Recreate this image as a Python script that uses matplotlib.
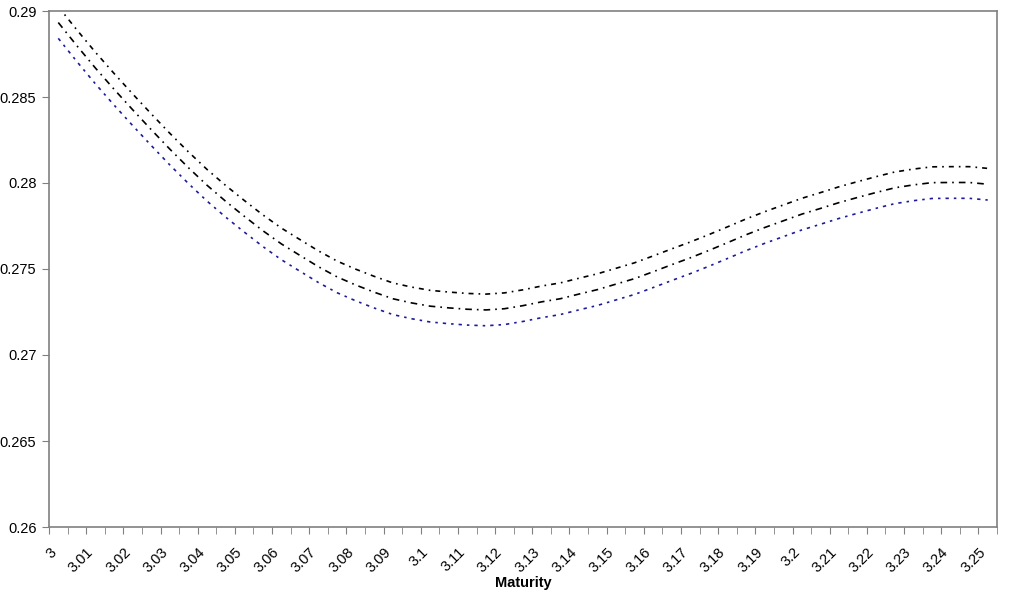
import numpy as np
import matplotlib
matplotlib.use('Agg')
import matplotlib.pyplot as plt

plt.rcParams['font.family'] = ['Liberation Sans', 'DejaVu Sans']

# maturities, one category every 0.005
maturity = [3.000, 3.005, 3.010, 3.015, 3.020, 3.025, 3.030, 3.035, 3.040, 3.045,
            3.050, 3.055, 3.060, 3.065, 3.070, 3.075, 3.080, 3.085, 3.090, 3.095,
            3.100, 3.105, 3.110, 3.115, 3.120, 3.125, 3.130, 3.135, 3.140, 3.145,
            3.150, 3.155, 3.160, 3.165, 3.170, 3.175, 3.180, 3.185, 3.190, 3.195,
            3.200, 3.205, 3.210, 3.215, 3.220, 3.225, 3.230, 3.235, 3.240, 3.245,
            3.250]

low = [0.28841, 0.28706, 0.28576, 0.28453, 0.28334, 0.28218, 0.28105, 0.27997, 0.27895, 0.27802,
       0.27715, 0.27631, 0.27554, 0.27487, 0.27421, 0.27362, 0.27315, 0.27273, 0.27235, 0.27211,
       0.27192, 0.27182, 0.27174, 0.27170, 0.27177, 0.27195, 0.27217, 0.27235, 0.27262, 0.27288,
       0.27320, 0.27352, 0.27392, 0.27433, 0.27473, 0.27516, 0.27561, 0.27607, 0.27649, 0.27688,
       0.27727, 0.27760, 0.27794, 0.27824, 0.27853, 0.27880, 0.27897, 0.27910, 0.27911, 0.27911,
       0.27901]

mid = [0.28933, 0.28798, 0.28668, 0.28545, 0.28426, 0.28310, 0.28197, 0.28089, 0.27987, 0.27894,
       0.27807, 0.27723, 0.27646, 0.27579, 0.27513, 0.27454, 0.27407, 0.27365, 0.27327, 0.27303,
       0.27284, 0.27274, 0.27266, 0.27262, 0.27269, 0.27287, 0.27309, 0.27327, 0.27354, 0.27380,
       0.27412, 0.27444, 0.27484, 0.27525, 0.27565, 0.27608, 0.27653, 0.27699, 0.27741, 0.27780,
       0.27819, 0.27852, 0.27886, 0.27916, 0.27945, 0.27972, 0.27989, 0.28002, 0.28003, 0.28003,
       0.27993]

high = [0.29025, 0.28890, 0.28760, 0.28637, 0.28518, 0.28402, 0.28289, 0.28181, 0.28079, 0.27986,
        0.27899, 0.27815, 0.27738, 0.27671, 0.27605, 0.27546, 0.27499, 0.27457, 0.27419, 0.27395,
        0.27376, 0.27366, 0.27358, 0.27354, 0.27361, 0.27379, 0.27401, 0.27419, 0.27446, 0.27472,
        0.27504, 0.27536, 0.27576, 0.27617, 0.27657, 0.27700, 0.27745, 0.27791, 0.27833, 0.27872,
        0.27911, 0.27944, 0.27978, 0.28008, 0.28037, 0.28064, 0.28081, 0.28094, 0.28095, 0.28095,
        0.28085]

x_labels = ['3', '3.01', '3.02', '3.03', '3.04', '3.05', '3.06', '3.07', '3.08', '3.09',
            '3.1', '3.11', '3.12', '3.13', '3.14', '3.15', '3.16', '3.17', '3.18', '3.19',
            '3.2', '3.21', '3.22', '3.23', '3.24', '3.25']

y_ticks = [0.26, 0.265, 0.27, 0.275, 0.28, 0.285, 0.29]

fig = plt.figure(figsize=(10.10, 5.99), dpi=100)
ax = fig.add_axes([49/1010, 1 - 527/599, (997 - 49)/1010, (527 - 11)/599])

idx = np.arange(len(maturity))
ax.plot(idx, high, color='black', lw=1.2, dashes=(3, 3, 1, 3))
ax.plot(idx, mid, color='black', lw=1.2, dashes=(4, 3, 1, 3))
ax.plot(idx, low, color='#1c1c9a', lw=1.2, dashes=(2, 3, 1.5, 3))

ax.set_xlim(-0.5, len(maturity) - 0.5)
ax.set_ylim(0.26, 0.29)

ax.set_xticks(np.arange(0, len(maturity), 2) - 0.5)
ax.set_xticklabels(x_labels, rotation=45, ha='right', rotation_mode='anchor', fontsize=10.5)
ax.set_xticks(np.arange(len(maturity) + 1) - 0.5, minor=True)
ax.tick_params(axis='x', which='both', direction='out', length=5, color='#808080', pad=8)
ax.tick_params(axis='y', direction='out', length=5, color='#808080', labelsize=10.5, pad=4)

ax.set_yticks(y_ticks)
ax.set_yticklabels(['%g' % v for v in y_ticks])

for s in ax.spines.values():
    s.set_color('#808080')
    s.set_linewidth(1.2)

ax.set_xlabel('Maturity', fontsize=10.5, fontweight='bold', labelpad=1)

fig.savefig('out.png', dpi=100)
